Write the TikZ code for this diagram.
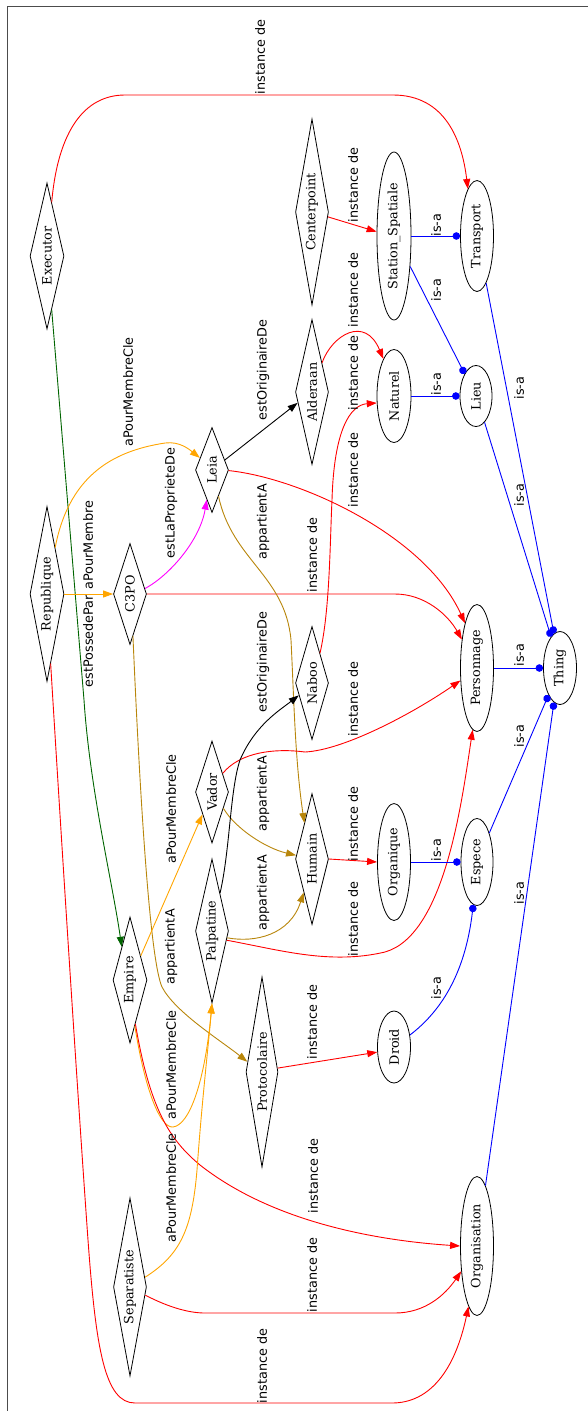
\documentclass[tikz,border=0pt]{standalone}
\usepackage{fontspec}
\usepackage{graphicx}
\usetikzlibrary{shapes.geometric,arrows.meta}
\newfontfamily\nodefont{DejaVu Serif}
\newfontfamily\edgefont{DejaVu Sans}
\definecolor{gvorange}{HTML}{FFA500}
\definecolor{gvgreen}{HTML}{006400}
\definecolor{gvgold}{HTML}{B8860B}
\definecolor{gvred}{HTML}{FF0000}
\definecolor{gvblue}{HTML}{0000FF}
\definecolor{gvmagenta}{HTML}{FF00FF}
\tikzset{
  inst/.style={draw=black, diamond, aspect=0.22, inner sep=0pt, line width=0.8pt,
    font=\nodefont\fontsize{12.8}{14}\selectfont},
  cls/.style={draw=black, ellipse, inner sep=0pt, line width=0.8pt,
    font=\nodefont\fontsize{12.8}{14}\selectfont},
  lbl/.style={rotate=90, inner sep=0pt, text=black,
    font=\edgefont\fontsize{12.8}{14}\selectfont},
  rel/.style={line width=0.9pt, -{Triangle[length=10pt,width=7pt]}},
  isa/.style={line width=0.9pt, color=gvblue, -{Circle[length=7.5pt]}},
  frame/.style={draw=black!70, line width=1.1pt}
}
\newcommand\dnode[5]{\node[inst, minimum width=#4pt, minimum height=#5pt] (#1) at (#2,#3) {\rotatebox{90}{#1}};}
\newcommand\enode[5]{\node[cls, minimum width=#4pt, minimum height=#5pt] (#1) at (#2,#3) {\rotatebox{90}{#1}};}
\begin{document}
\begin{tikzpicture}[x=1pt,y=-1pt]
\useasboundingbox (0,0) rectangle (588,1411);
\draw[frame] (7.5,1411) -- (7.5,6.5) -- (588,6.5);

% instances (diamonds)
\dnode{Executor}{47}{256}{34}{146}
\dnode{Republique}{47}{594}{34}{175}
\dnode{C3PO}{130}{594}{33}{101}
\dnode{Leia}{212}{470}{33}{85}
\dnode{Alderaan}{312}{392}{33}{145}
\dnode{Centerpoint}{312}{212}{33}{186}
\dnode{Naboo}{312}{683}{33}{113}
\dnode{Vador}{212}{792}{33}{102}
\dnode{Palpatine}{212}{931}{33}{144}
\dnode{Humain}{312}{859}{33}{131}
\dnode{Empire}{130}{980}{34}{126}
\dnode{Protocolaire}{262}{1072}{32}{190}
\dnode{Separatiste}{130}{1287}{33}{178}
% classes (ellipses)
\node[cls, minimum width=34pt, minimum height=168pt] (StationSpatiale) at (394,236) {\rotatebox{90}{Station\_Spatiale}};
\enode{Transport}{477}{236}{33}{111}
\enode{Naturel}{394}{396}{34}{93}
\enode{Lieu}{476}{396}{32}{61}
\enode{Personnage}{477}{668}{33}{127}
\enode{Thing}{560}{668}{33}{73}
\enode{Organique}{394}{862}{33}{117}
\enode{Espece}{477}{862}{32}{87}
\enode{Droid}{394}{1047}{33}{72}
\enode{Organisation}{477}{1246}{33}{139}

% relations
\draw[rel, gvred] (Executor.85) .. controls (58,130) and (85,95) .. (125,95) -- (393,95)
  .. controls (445,95) and (462,140) .. (Transport.101)
  node[lbl, at={(260,57)}] {instance de};
\draw[rel, gvgreen] (Executor.275) -- (84,700) .. controls (90,790) and (112,880) .. (Empire.104)
  node[lbl, at={(88,641)}] {estPossedePar};
\draw[rel, gvorange] (Republique.east) -- (C3PO.west)
  node[lbl, at={(88,545)}] {aPourMembre};
\draw[rel, gvorange] (Republique.80) .. controls (70,470) and (120,450) .. (165,443)
  .. controls (180,441) and (190,450) .. (Leia.135)
  node[lbl, at={(128,392)}] {aPourMembreCle};
\draw[rel, gvmagenta] (C3PO.20) .. controls (170,575) and (200,540) .. (Leia.260)
  node[lbl, at={(171,503)}] {estLaProprieteDe};
\draw[rel, gvred] (C3PO.east) -- (395,594) .. controls (425,594) and (448,615) .. (Personnage.118)
  node[lbl, at={(312,555)}] {instance de};
\draw[rel, gvgold] (C3PO.274) .. controls (140,800) and (150,960) .. (162,987)
  .. controls (175,1012) and (220,1040) .. (Protocolaire.145)
  node[lbl, at={(171,947)}] {appartientA};
\draw[rel, black] (Leia.38) -- (Alderaan.217)
  node[lbl, at={(263,370)}] {estOriginaireDe};
\draw[rel, gvred] (Leia.358) .. controls (300,478) and (425,535) .. (Personnage.105)
  node[lbl, at={(353,470)}] {instance de};
\draw[rel, gvgold] (Leia.284) .. controls (232,560) and (285,575) .. (291,640)
  .. controls (294,700) and (295,760) .. (Humain.102)
  node[lbl, at={(263,522)}] {appartientA};
\draw[rel, gvred] (Alderaan.71) .. controls (332,335) and (365,315) .. (Naturel.106)
  node[lbl, at={(353,290)}] {instance de};
\draw[rel, gvred] (Centerpoint.-17) -- (StationSpatiale.166)
  node[lbl, at={(353,185)}] {instance de};
\draw[rel, gvred] (Naboo.75) .. controls (330,610) and (330,540) .. (332,500)
  .. controls (334,430) and (350,405) .. (Naturel.202)
  node[lbl, at={(353,373)}] {instance de};
\draw[rel, gvred] (Humain.east) -- (Organique.west)
  node[lbl, at={(353,824)}] {instance de};
\draw[rel, gvgold] (Palpatine.336) .. controls (255,943) and (290,935) .. (Humain.256)
  node[lbl, at={(263,893)}] {appartientA};
\draw[rel, gvgold] (Vador.305) .. controls (235,828) and (265,848) .. (Humain.167)
  node[lbl, at={(263,794)}] {appartientA};
\draw[rel, gvred] (Vador.60) .. controls (240,752) and (275,748) .. (305,752)
  .. controls (345,750) and (415,712) .. (Personnage.217)
  node[lbl, at={(353,699)}] {instance de};
\draw[rel, black] (Palpatine.78) .. controls (230,850) and (230,790) .. (240,760)
  .. controls (255,725) and (280,710) .. (Naboo.223)
  node[lbl, at={(263,662)}] {estOriginaireDe};
\draw[rel, gvred] (Palpatine.328) .. controls (280,950) and (330,965) .. (385,952)
  .. controls (445,935) and (462,800) .. (Personnage.266)
  node[lbl, at={(353,919)}] {instance de};
\draw[rel, gvorange] (Empire.66) -- (Vador.247)
  node[lbl, at={(171,809)}] {aPourMembreCle};
\draw[rel, gvorange] (Empire.276) .. controls (145,1090) and (160,1128) .. (173,1127)
  .. controls (190,1125) and (205,1080) .. (Palpatine.south)
  node[lbl, at={(171,1065)}] {aPourMembreCle};
\draw[rel, gvred] (Empire.277) .. controls (150,1110) and (170,1140) .. (200,1165)
  .. controls (270,1220) and (370,1240) .. (Organisation.west)
  node[lbl, at={(313,1176)}] {instance de};
\draw[rel, gvorange] (Separatiste.33) .. controls (180,1255) and (192,1230) .. (197,1170)
  .. controls (202,1100) and (208,1050) .. (Palpatine.south)
  node[lbl, at={(171,1188)}] {aPourMembreCle};
\draw[rel, gvred] (Separatiste.332) .. controls (170,1308) and (190,1313) .. (205,1313) -- (395,1313)
  .. controls (425,1313) and (445,1295) .. (Organisation.238)
  node[lbl, at={(312,1275)}] {instance de};
\draw[rel, gvred] (Republique.273) .. controls (62,850) and (78,1100) .. (88,1240)
  .. controls (96,1350) and (105,1403) .. (135,1403) -- (392,1403)
  .. controls (430,1403) and (455,1370) .. (Organisation.262)
  node[lbl, at={(262,1366)}] {instance de};
\draw[rel, gvred] (Protocolaire.14) -- (Droid.197)
  node[lbl, at={(312,1022)}] {instance de};

% is-a
\draw[isa] (StationSpatiale.east) -- (Transport.west)
  node[lbl, at={(436,225)}] {is-a};
\draw[isa] (StationSpatiale.298) -- (Lieu.117)
  node[lbl, at={(436,290)}] {is-a};
\draw[isa] (Naturel.east) -- (Lieu.west)
  node[lbl, at={(436,384)}] {is-a};
\draw[isa] (Transport.281) -- (Thing.100)
  node[lbl, at={(519,388)}] {is-a};
\draw[isa] (Lieu.288) -- (Thing.106)
  node[lbl, at={(519,495)}] {is-a};
\draw[isa] (Personnage.east) -- (Thing.west)
  node[lbl, at={(519,655)}] {is-a};
\draw[isa] (Espece.67) -- (Thing.247)
  node[lbl, at={(519,736)}] {is-a};
\draw[isa] (Organisation.82) -- (Thing.260)
  node[lbl, at={(519,893)}] {is-a};
\draw[isa] (Organique.east) -- (Espece.west)
  node[lbl, at={(436,850)}] {is-a};
\draw[isa] (Droid.37) .. controls (440,1012) and (465,975) .. (Espece.265)
  node[lbl, at={(436,988)}] {is-a};
\end{tikzpicture}
\end{document}
